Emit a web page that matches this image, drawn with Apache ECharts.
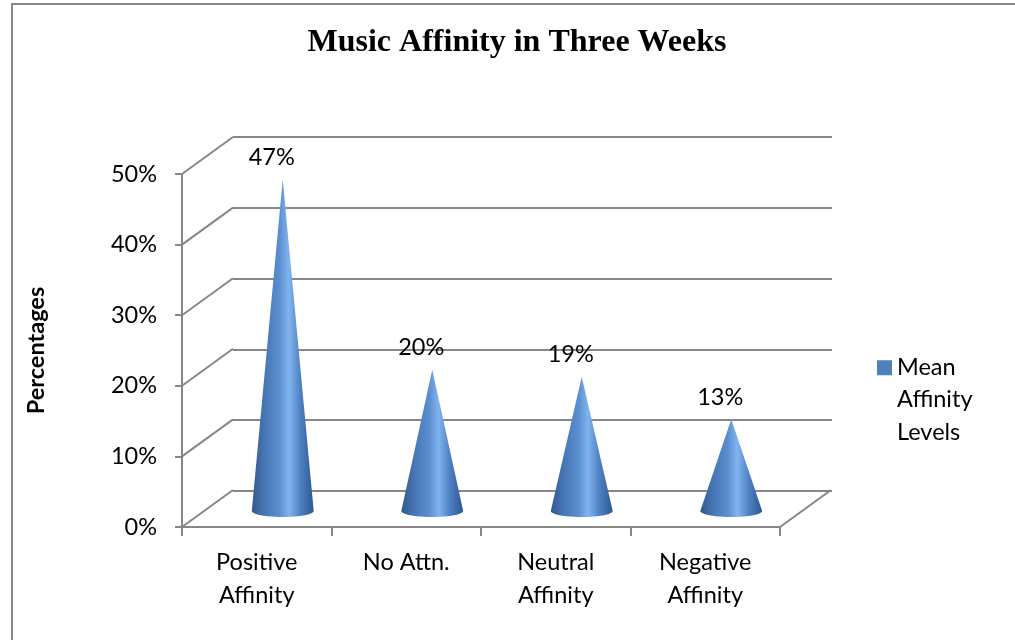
<!DOCTYPE html>
<html>
<head>
<meta charset="utf-8">
<script src="https://cdn.jsdelivr.net/npm/echarts@6/dist/echarts.min.js"></script>
<style>
  html, body { margin: 0; padding: 0; background: #fff; }
  #main { width: 1015px; height: 640px; }
</style>
</head>
<body>
<div id="main"></div>
<script>
// data
const categories = ["Positive\nAffinity", "No Attn.", "Neutral\nAffinity", "Negative\nAffinity"];
const values = [47, 20, 19, 13];
const tickValues = [0, 10, 20, 30, 40, 50];
const seriesName = "Mean Affinity Levels";

const gridColor = "#878787";
const font = "Lato";
const fontSize = 23.5;
// depth offset of the back wall (pixels)
const depthX = 51, depthY = -37;

const chart = echarts.init(document.getElementById("main"));

function coneItem(params, api) {
  const i = api.value(0), v = api.value(1);
  const base = api.coord([i, 0]);
  const apex = api.coord([i, v]);
  const rx = api.size([1, 0])[0] * 0.207;
  const ry = 6;
  const pts = [[apex[0], apex[1]]];
  for (let k = 0; k <= 24; k++) {
    const a = Math.PI * k / 24;
    pts.push([base[0] + rx * Math.cos(a), base[1] + ry * Math.sin(a)]);
  }
  return {
    type: "group",
    children: [
      {
        type: "polygon",
        shape: { points: pts },
        style: {
          fill: {
            type: "linear", x: 0, y: 0, x2: 1, y2: 0,
            colorStops: [
              { offset: 0, color: "#30598f" },
              { offset: 0.2, color: "#4775b4" },
              { offset: 0.45, color: "#5b8fd0" },
              { offset: 0.6, color: "#80b4ee" },
              { offset: 0.78, color: "#4f82c3" },
              { offset: 1, color: "#2c5891" }
            ]
          }
        }
      },
      {
        type: "text",
        style: {
          text: v + "%",
          x: apex[0] - 11,
          y: apex[1] - 22,
          align: "center",
          verticalAlign: "middle",
          fill: "#000",
          font: fontSize + "px " + font
        }
      }
    ]
  };
}

function wallItem(params, api) {
  const cs = params.coordSys;
  const y = api.coord([0, api.value(0)])[1];
  const style = { stroke: gridColor, lineWidth: 2 };
  const children = [{
    type: "line",
    shape: { x1: cs.x, y1: y, x2: cs.x + depthX, y2: y + depthY },
    style: style
  }];
  if (api.value(0) === 0) {
    const xr = cs.x + cs.width;
    children.push({
      type: "line",
      shape: { x1: xr, y1: y, x2: xr + depthX, y2: y + depthY },
      style: style
    });
  }
  return { type: "group", children: children };
}

const option = {
  backgroundColor: "#fff",
  title: {
    text: "Music Affinity in Three Weeks",
    left: 517,
    top: 27,
    padding: 0,
    textAlign: "center",
    textStyle: { fontFamily: "Liberation Serif", fontWeight: "bold", fontSize: 32, color: "#000" }
  },
  legend: {
    data: [seriesName],
    left: 877,
    top: 351,
    padding: 0,
    itemWidth: 15,
    itemHeight: 97,
    icon: "path://M0,0 L0,0 M0,97 L0,97 M0,9 L15,9 L15,24 L0,24 Z",
    itemStyle: { color: "#4f81bd", borderWidth: 0 },
    formatter: function (name) { return name.split(" ").join("\n"); },
    textStyle: { fontFamily: font, fontSize: fontSize, lineHeight: 32.5, color: "#000" }
  },
  graphic: [{
    type: "rect",
    shape: { x: 12, y: 4, width: 1020, height: 700 },
    style: { fill: "none", stroke: gridColor, lineWidth: 2 },
    silent: true
  }],
  grid: [
    // front plane (axes)
    { left: 182, right: 235, top: 174, bottom: 113 },
    // back wall
    { left: 233, right: 183, top: 137, bottom: 149 },
    // cones at mid depth
    { left: 208, right: 209, top: 158, bottom: 129 }
  ],
  xAxis: [
    {
      gridIndex: 0, type: "category", data: categories,
      axisLine: { lineStyle: { color: gridColor, width: 2 } },
      axisTick: { show: true, length: 9, lineStyle: { color: gridColor, width: 2 } },
      axisLabel: { margin: 19, fontFamily: font, fontSize: fontSize, lineHeight: 33, color: "#000" }
    },
    { gridIndex: 1, type: "category", data: categories, show: false },
    { gridIndex: 2, type: "category", data: categories, show: false }
  ],
  yAxis: [
    {
      gridIndex: 0, type: "value", min: 0, max: 50, interval: 10,
      name: "Percentages", nameLocation: "middle", nameRotate: 90, nameGap: 134,
      nameTextStyle: { fontFamily: font, fontWeight: "bold", fontSize: fontSize, color: "#000" },
      axisLine: { show: true, lineStyle: { color: gridColor, width: 2 } },
      axisTick: { show: true, length: 7, lineStyle: { color: gridColor, width: 2 } },
      splitLine: { show: false },
      axisLabel: { margin: 25, formatter: "{value}%", fontFamily: font, fontSize: fontSize, color: "#000" }
    },
    {
      gridIndex: 1, type: "value", min: 0, max: 50, interval: 10,
      axisLine: { show: false }, axisTick: { show: false }, axisLabel: { show: false },
      splitLine: { show: true, lineStyle: { color: gridColor, width: 2 } }
    },
    {
      gridIndex: 2, type: "value", min: 0, max: 50, interval: 10, show: false,
      splitLine: { show: false }
    }
  ],
  series: [
    {
      type: "custom", name: "walls", xAxisIndex: 0, yAxisIndex: 0,
      silent: true, renderItem: wallItem,
      data: tickValues.map(function (t) { return [t]; }),
      encode: { y: 0 }
    },
    {
      type: "custom", name: seriesName, xAxisIndex: 2, yAxisIndex: 2,
      itemStyle: { color: "#4f81bd" },
      renderItem: coneItem,
      data: values.map(function (v, i) { return [i, v]; }),
      encode: { x: 0, y: 1 }
    }
  ]
};

chart.setOption(option);
</script>
</body>
</html>
